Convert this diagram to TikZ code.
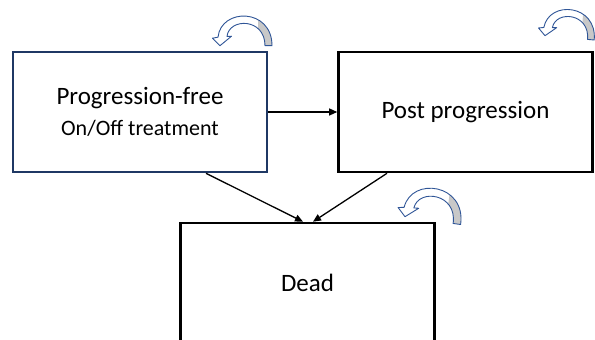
\documentclass[tikz,border=0pt]{standalone}
\usepackage{fontspec}
\setmainfont{Carlito}
\usetikzlibrary{arrows.meta}
\definecolor{navy}{RGB}{31,56,100}
\definecolor{loopblue}{RGB}{47,85,151}
\definecolor{loopgrey}{RGB}{200,200,200}
\def\loopband{(52,0) .. controls (52,38) and (1,38) .. (-2,8.5) -- (-7.5,7.5) -- (0,0) -- (11.5,9.5) -- (7,9.2) .. controls (9,28) and (45,28) .. (45,0) -- cycle}
\tikzset{
  state/.style={draw, line width=2.6pt, minimum width=254pt, minimum height=120pt, inner sep=0pt, font=\fontsize{25}{30}\selectfont},
  flow/.style={line width=1.3pt, -{Triangle[length=8pt,width=7pt]}},
  selfloop/.pic={
    \fill[white] \loopband;
    \begin{scope}
      \clip (38,-20) rectangle (70,40);
      \fill[loopgrey] \loopband;
    \end{scope}
    \draw[loopblue, line width=0.9pt, line join=round] \loopband;
  }
}

\begin{document}
\begin{tikzpicture}[x=1pt,y=1pt]
\useasboundingbox (0,0) rectangle (595,340);
\node[state, draw=navy, align=center] (pf) at (140,228) {Progression-free\\[1pt]\fontsize{22}{26}\selectfont On/Off treatment};
\node[state] (pp) at (465.5,228) {Post progression};
\node[state] (dead) at (307.5,57) {Dead};
\draw[flow] (pf.east) -- (pp.west);
\draw[flow] ([xshift=66pt]pf.south) -- ([xshift=-4.5pt]dead.north);
\draw[flow] ([xshift=-78.5pt]pp.south) -- ([xshift=5.5pt]dead.north);
\pic at ([shift={(80pt,5pt)}]pf.north) {selfloop};
\pic[rotate=-5, scale=0.95] at ([shift={(79.5pt,15pt)}]pp.north) {selfloop};
\pic[rotate=-8, scale=1.08] at ([shift={(97.5pt,5pt)}]dead.north) {selfloop};
\end{tikzpicture}
\end{document}
